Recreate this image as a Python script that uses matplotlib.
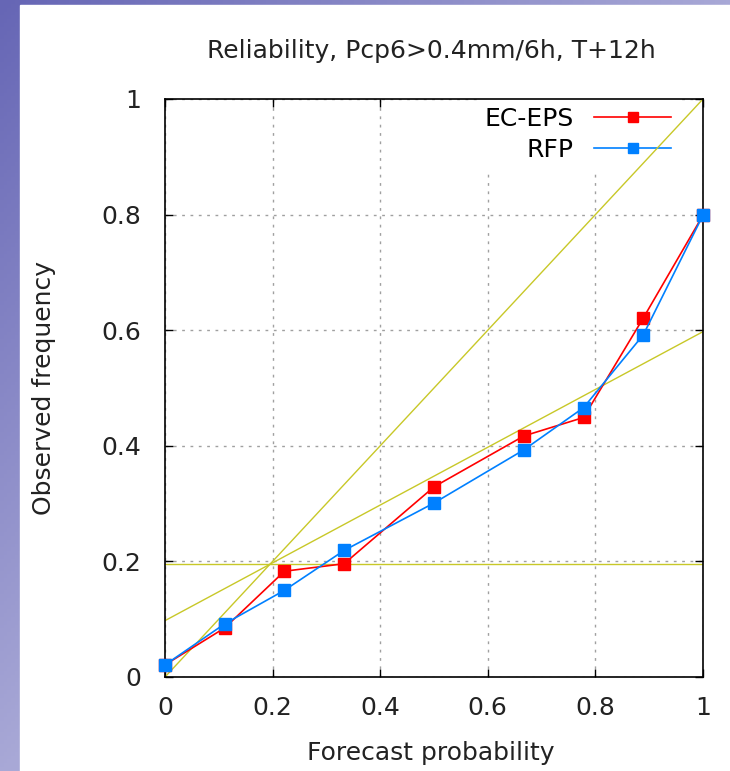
import numpy as np
import matplotlib
matplotlib.use("Agg")
import matplotlib.pyplot as plt
from matplotlib.patches import Rectangle

# forecast probability bins and observed frequencies
prob = [0.0, 0.111, 0.222, 0.333, 0.5, 0.667, 0.778, 0.889, 1.0]
ec_eps = [0.021, 0.085, 0.183, 0.196, 0.329, 0.417, 0.449, 0.621, 0.799]
rfp = [0.021, 0.092, 0.150, 0.219, 0.301, 0.393, 0.466, 0.592, 0.799]
clim = 0.195  # sample climatology
ticks = [0, 0.2, 0.4, 0.6, 0.8, 1]
tick_labels = ["0", "0.2", "0.4", "0.6", "0.8", "1"]

W, H = 730, 771
plt.rcParams['font.family'] = ['DejaVu Sans']
fig = plt.figure(figsize=(W / 100, H / 100), dpi=100)

# purple gradient frame on the left and top edges
bg = fig.add_axes([0, 0, 1, 1], zorder=-10)
gx, gy = np.meshgrid(np.linspace(0, 1, 200), np.linspace(0, 1, 200))
t = np.clip((gx + gy) / 1.0, 0, 1)
c0 = np.array([0.40, 0.40, 0.71])
c1 = np.array([0.66, 0.66, 0.84])
img = c0[None, None, :] * (1 - t[..., None]) + c1[None, None, :] * t[..., None]
bg.imshow(img, extent=[0, 1, 0, 1], origin="upper", aspect="auto")
bg.add_patch(Rectangle((20 / W, 0), 1, 1 - 5 / H, color="white", transform=bg.transAxes))
bg.set_xlim(0, 1)
bg.set_ylim(0, 1)
bg.axis("off")

ax = fig.add_axes([165 / W, 1 - 677 / H, 538 / W, 578 / H])
ax.set_facecolor("none")
ax.set_axisbelow(True)

yel = "#c8c828"
xx = np.array([0.0, 1.0])
ax.plot(xx, xx, color=yel, lw=1.0, zorder=1.5)
ax.plot(xx, [clim, clim], color=yel, lw=1.0, zorder=1.5)
ax.plot(xx, (xx + clim) / 2, color=yel, lw=1.0, zorder=1.5)

ax.plot(prob, ec_eps, color="#ff0000", lw=1.2, marker="s", ms=8, mec="#ff0000",
        label="EC-EPS", clip_on=False, zorder=3)
ax.plot(prob, rfp, color="#0080ff", lw=1.2, marker="s", ms=8, mec="#0080ff",
        label="RFP", clip_on=False, zorder=4)

ax.set_xlim(0, 1)
ax.set_ylim(0, 1)
ax.set_xticks(ticks)
ax.set_xticklabels(tick_labels)
ax.set_yticks(ticks)
ax.set_yticklabels(tick_labels)
ax.tick_params(direction="in", length=6, width=1, top=True, right=True,
               labelsize=18, colors="black")
ax.tick_params(axis="x", pad=14)
ax.tick_params(axis="y", pad=17)
for lab in ax.get_xticklabels() + ax.get_yticklabels():
    lab.set_color("#222222")
for s in ax.spines.values():
    s.set_linewidth(1.2)
ax.grid(True, color="#a0a0a0", lw=1.0, linestyle=(0, (2, 4)))

leg = ax.legend(loc="upper right", bbox_to_anchor=(0.955, 1.0), borderaxespad=0,
                fontsize=18, markerfirst=False, handlelength=3.1, handletextpad=0.8,
                labelspacing=0.3, borderpad=0.3, frameon=True, fancybox=False)
leg.get_frame().set_facecolor("white")
leg.get_frame().set_edgecolor("none")
leg.get_frame().set_alpha(1)
leg.set_zorder(1)
for h in leg.legend_handles:
    h.set_markersize(7)

fig.text(431 / W, 1 - 58 / H, "Reliability, Pcp6>0.4mm/6h, T+12h", fontsize=18,
         ha="center", va="baseline", color="#222222")
fig.text(431 / W, 1 - 760 / H, "Forecast probability", fontsize=18,
         ha="center", va="baseline", color="#222222")
fig.text(44 / W, 1 - 388 / H, "Observed frequency", fontsize=18, rotation=90,
         ha="center", va="center", color="#222222")

fig.savefig("out.png", dpi=100)
